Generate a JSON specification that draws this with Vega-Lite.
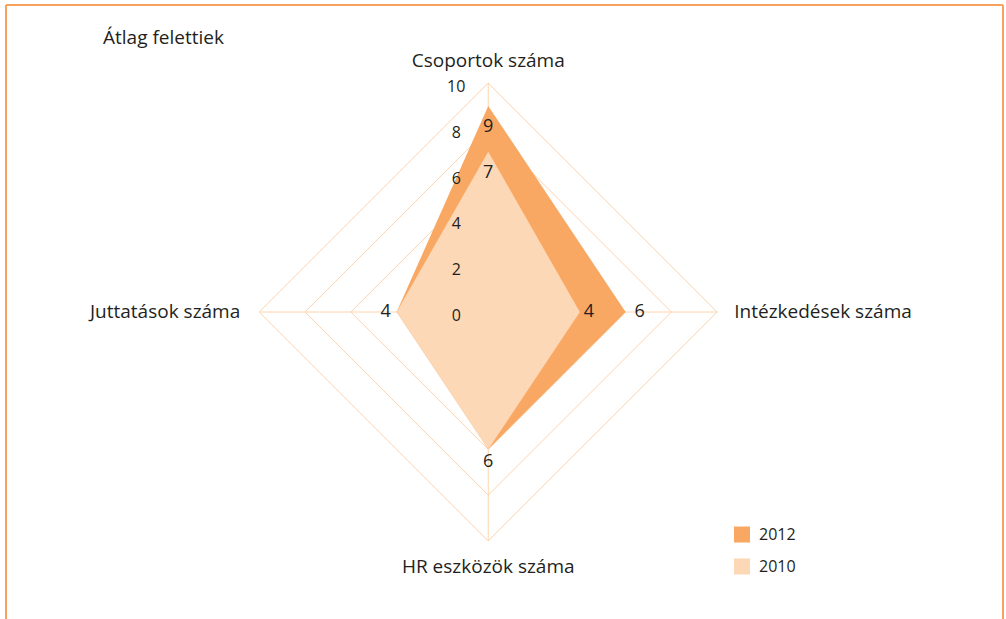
{
  "$schema": "https://vega.github.io/schema/vega-lite/v6.json",
  "width": 997,
  "height": 614,
  "autosize": {"type": "none"},
  "padding": {"left": 6, "top": 5, "right": 3, "bottom": 0},
  "background": "white",
  "config": {"view": {"stroke": null}, "font": "Open Sans", "text": {"color": "#231F20", "font": "Open Sans"}},
  "title": {"text": "Átlag felettiek", "anchor": "start", "frame": "group", "orient": "top", "offset": 0, "dx": 97, "dy": 59, "baseline": "alphabetic", "fontSize": 19, "fontWeight": "normal", "color": "#231F20", "font": "Open Sans"},
  "datasets": {
    "series": [
      {"year": "2012", "axis": "Csoportok száma", "order": 1, "value": 9},
      {"year": "2012", "axis": "Intézkedések száma", "order": 2, "value": 6},
      {"year": "2012", "axis": "HR eszközök száma", "order": 3, "value": 6},
      {"year": "2012", "axis": "Juttatások száma", "order": 4, "value": 4},
      {"year": "2010", "axis": "Csoportok száma", "order": 1, "value": 7},
      {"year": "2010", "axis": "Intézkedések száma", "order": 2, "value": 4},
      {"year": "2010", "axis": "HR eszközök száma", "order": 3, "value": 6},
      {"year": "2010", "axis": "Juttatások száma", "order": 4, "value": 4}
    ],
    "grid": [
      {"level": 2, "axis": "Csoportok száma", "order": 1}, {"level": 2, "axis": "Intézkedések száma", "order": 2}, {"level": 2, "axis": "HR eszközök száma", "order": 3}, {"level": 2, "axis": "Juttatások száma", "order": 4},
      {"level": 4, "axis": "Csoportok száma", "order": 1}, {"level": 4, "axis": "Intézkedések száma", "order": 2}, {"level": 4, "axis": "HR eszközök száma", "order": 3}, {"level": 4, "axis": "Juttatások száma", "order": 4},
      {"level": 6, "axis": "Csoportok száma", "order": 1}, {"level": 6, "axis": "Intézkedések száma", "order": 2}, {"level": 6, "axis": "HR eszközök száma", "order": 3}, {"level": 6, "axis": "Juttatások száma", "order": 4},
      {"level": 8, "axis": "Csoportok száma", "order": 1}, {"level": 8, "axis": "Intézkedések száma", "order": 2}, {"level": 8, "axis": "HR eszközök száma", "order": 3}, {"level": 8, "axis": "Juttatások száma", "order": 4},
      {"level": 10, "axis": "Csoportok száma", "order": 1}, {"level": 10, "axis": "Intézkedések száma", "order": 2}, {"level": 10, "axis": "HR eszközök száma", "order": 3}, {"level": 10, "axis": "Juttatások száma", "order": 4}
    ],
    "axes": [
      {"axis": "Csoportok száma", "level": 10},
      {"axis": "Intézkedések száma", "level": 10},
      {"axis": "HR eszközök száma", "level": 10},
      {"axis": "Juttatások száma", "level": 10}
    ],
    "ticks": [{"t": 0}, {"t": 2}, {"t": 4}, {"t": 6}, {"t": 8}, {"t": 10}],
    "frame": [{"side": "left", "fx": -21.06}, {"side": "right", "fx": 22.48}]
  },
  "layer": [
    {
      "data": {"name": "grid"},
      "transform": [
        {"calculate": "datum.axis === 'Intézkedések száma' ? datum.level : datum.axis === 'Juttatások száma' ? -datum.level : 0", "as": "px"},
        {"calculate": "datum.axis === 'Csoportok száma' ? datum.level : datum.axis === 'HR eszközök száma' ? -datum.level : 0", "as": "py"}
      ],
      "mark": {"type": "line", "interpolate": "linear-closed", "stroke": "#FCD4AE", "strokeWidth": 1},
      "encoding": {
        "x": {"field": "px", "type": "quantitative", "scale": {"domain": [-21.06, 22.48], "nice": false, "zero": false}, "axis": null},
        "y": {"field": "py", "type": "quantitative", "scale": {"domain": [-13.41, 13.41], "nice": false, "zero": false}, "axis": null},
        "detail": {"field": "level", "type": "nominal"},
        "order": {"field": "order", "type": "quantitative"}
      }
    },
    {
      "data": {"name": "axes"},
      "transform": [
        {"calculate": "datum.axis === 'Intézkedések száma' ? datum.level : datum.axis === 'Juttatások száma' ? -datum.level : 0", "as": "px"},
        {"calculate": "datum.axis === 'Csoportok száma' ? datum.level : datum.axis === 'HR eszközök száma' ? -datum.level : 0", "as": "py"},
        {"calculate": "0", "as": "zero"}
      ],
      "mark": {"type": "rule", "stroke": "#FCD4AE", "strokeWidth": 1},
      "encoding": {
        "x": {"field": "zero", "type": "quantitative", "axis": null},
        "y": {"field": "zero", "type": "quantitative", "axis": null},
        "x2": {"field": "px"},
        "y2": {"field": "py"}
      }
    },
    {
      "data": {"name": "series"},
      "transform": [
        {"filter": "datum.year === '2012'"},
        {"calculate": "datum.axis === 'Intézkedések száma' ? datum.value : datum.axis === 'Juttatások száma' ? -datum.value : 0", "as": "px"},
        {"calculate": "datum.axis === 'Csoportok száma' ? datum.value : datum.axis === 'HR eszközök száma' ? -datum.value : 0", "as": "py"}
      ],
      "mark": {"type": "line", "interpolate": "linear-closed", "strokeWidth": 0, "strokeOpacity": 0, "fillOpacity": 1},
      "encoding": {
        "x": {"field": "px", "type": "quantitative", "axis": null},
        "y": {"field": "py", "type": "quantitative", "axis": null},
        "order": {"field": "order", "type": "quantitative"},
        "fill": {"field": "year", "type": "nominal", "scale": {"domain": ["2012", "2010"], "range": ["#F9A864", "#FDD8B6"]},
          "legend": {"title": null, "orient": "none", "legendX": 728, "legendY": 521, "padding": 0, "symbolType": "square", "symbolSize": 256, "symbolStrokeWidth": 0, "symbolOpacity": 1, "labelFontSize": 16, "labelFont": "Open Sans", "labelColor": "#231F20", "labelOffset": 9, "rowPadding": 15, "clipHeight": 17}}
      }
    },
    {
      "data": {"name": "series"},
      "transform": [
        {"filter": "datum.year === '2010'"},
        {"calculate": "datum.axis === 'Intézkedések száma' ? datum.value : datum.axis === 'Juttatások száma' ? -datum.value : 0", "as": "px"},
        {"calculate": "datum.axis === 'Csoportok száma' ? datum.value : datum.axis === 'HR eszközök száma' ? -datum.value : 0", "as": "py"}
      ],
      "mark": {"type": "line", "interpolate": "linear-closed", "strokeWidth": 0, "strokeOpacity": 0, "fillOpacity": 1},
      "encoding": {
        "x": {"field": "px", "type": "quantitative", "axis": null},
        "y": {"field": "py", "type": "quantitative", "axis": null},
        "order": {"field": "order", "type": "quantitative"},
        "fill": {"field": "year", "type": "nominal"}
      }
    },
    {
      "data": {"name": "ticks"},
      "transform": [{"calculate": "0", "as": "zero"}],
      "mark": {"type": "text", "align": "center", "baseline": "middle", "dx": -32, "dy": 4, "fontSize": 16},
      "encoding": {
        "x": {"field": "zero", "type": "quantitative", "axis": null},
        "y": {"field": "t", "type": "quantitative", "axis": null},
        "text": {"field": "t", "type": "quantitative"}
      }
    },
    {
      "data": {"name": "series"},
      "transform": [{"filter": "datum.axis === 'Csoportok száma'"}, {"calculate": "0", "as": "zero"}],
      "mark": {"type": "text", "align": "center", "baseline": "middle", "dy": 21, "fontSize": 18},
      "encoding": {
        "x": {"field": "zero", "type": "quantitative", "axis": null},
        "y": {"field": "value", "type": "quantitative", "axis": null},
        "text": {"field": "value", "type": "quantitative"}
      }
    },
    {
      "data": {"name": "series"},
      "transform": [{"filter": "datum.axis === 'Intézkedések száma' && datum.year === '2010'"}, {"calculate": "0", "as": "zero"}],
      "mark": {"type": "text", "align": "center", "baseline": "middle", "dx": 9, "fontSize": 18},
      "encoding": {
        "x": {"field": "value", "type": "quantitative", "axis": null},
        "y": {"field": "zero", "type": "quantitative", "axis": null},
        "text": {"field": "value", "type": "quantitative"}
      }
    },
    {
      "data": {"name": "series"},
      "transform": [{"filter": "datum.axis === 'Intézkedések száma' && datum.year === '2012'"}, {"calculate": "0", "as": "zero"}],
      "mark": {"type": "text", "align": "center", "baseline": "middle", "dx": 14, "fontSize": 18},
      "encoding": {
        "x": {"field": "value", "type": "quantitative", "axis": null},
        "y": {"field": "zero", "type": "quantitative", "axis": null},
        "text": {"field": "value", "type": "quantitative"}
      }
    },
    {
      "data": {"name": "series"},
      "transform": [{"filter": "datum.axis === 'HR eszközök száma' && datum.year === '2012'"}, {"calculate": "-datum.value", "as": "py"}, {"calculate": "0", "as": "zero"}],
      "mark": {"type": "text", "align": "center", "baseline": "middle", "dy": 13, "fontSize": 18},
      "encoding": {
        "x": {"field": "zero", "type": "quantitative", "axis": null},
        "y": {"field": "py", "type": "quantitative", "axis": null},
        "text": {"field": "value", "type": "quantitative"}
      }
    },
    {
      "data": {"name": "series"},
      "transform": [{"filter": "datum.axis === 'Juttatások száma' && datum.year === '2012'"}, {"calculate": "-datum.value", "as": "px"}, {"calculate": "0", "as": "zero"}],
      "mark": {"type": "text", "align": "center", "baseline": "middle", "dx": -11, "fontSize": 18},
      "encoding": {
        "x": {"field": "px", "type": "quantitative", "axis": null},
        "y": {"field": "zero", "type": "quantitative", "axis": null},
        "text": {"field": "value", "type": "quantitative"}
      }
    },
    {
      "data": {"name": "axes"},
      "transform": [{"filter": "datum.axis === 'Csoportok száma'"}, {"calculate": "0", "as": "zero"}],
      "mark": {"type": "text", "align": "center", "baseline": "alphabetic", "dy": -16, "fontSize": 19},
      "encoding": {
        "x": {"field": "zero", "type": "quantitative", "axis": null},
        "y": {"field": "level", "type": "quantitative", "axis": null},
        "text": {"field": "axis", "type": "nominal"}
      }
    },
    {
      "data": {"name": "axes"},
      "transform": [{"filter": "datum.axis === 'Intézkedések száma'"}, {"calculate": "0", "as": "zero"}],
      "mark": {"type": "text", "align": "left", "baseline": "middle", "dx": 17, "fontSize": 19},
      "encoding": {
        "x": {"field": "level", "type": "quantitative", "axis": null},
        "y": {"field": "zero", "type": "quantitative", "axis": null},
        "text": {"field": "axis", "type": "nominal"}
      }
    },
    {
      "data": {"name": "axes"},
      "transform": [{"filter": "datum.axis === 'HR eszközök száma'"}, {"calculate": "-datum.level", "as": "py"}, {"calculate": "0", "as": "zero"}],
      "mark": {"type": "text", "align": "center", "baseline": "alphabetic", "dy": 32, "fontSize": 19},
      "encoding": {
        "x": {"field": "zero", "type": "quantitative", "axis": null},
        "y": {"field": "py", "type": "quantitative", "axis": null},
        "text": {"field": "axis", "type": "nominal"}
      }
    },
    {
      "data": {"name": "axes"},
      "transform": [{"filter": "datum.axis === 'Juttatások száma'"}, {"calculate": "-datum.level", "as": "px"}, {"calculate": "0", "as": "zero"}],
      "mark": {"type": "text", "align": "right", "baseline": "middle", "dx": -19, "fontSize": 19},
      "encoding": {
        "x": {"field": "px", "type": "quantitative", "axis": null},
        "y": {"field": "zero", "type": "quantitative", "axis": null},
        "text": {"field": "axis", "type": "nominal"}
      }
    },
    {
      "data": {"name": "frame"},
      "mark": {"type": "rule", "stroke": "#F7A25D", "strokeWidth": 2},
      "encoding": {
        "x": {"field": "fx", "type": "quantitative", "axis": null}
      }
    },
    {
      "data": {"name": "axes"},
      "transform": [{"filter": "datum.axis === 'Csoportok száma'"}, {"calculate": "13.41", "as": "fy"}],
      "mark": {"type": "rule", "stroke": "#F7A25D", "strokeWidth": 2},
      "encoding": {
        "y": {"field": "fy", "type": "quantitative", "axis": null}
      }
    }
  ],
  "resolve": {"scale": {"x": "shared", "y": "shared"}},
  "encoding": {}
}
